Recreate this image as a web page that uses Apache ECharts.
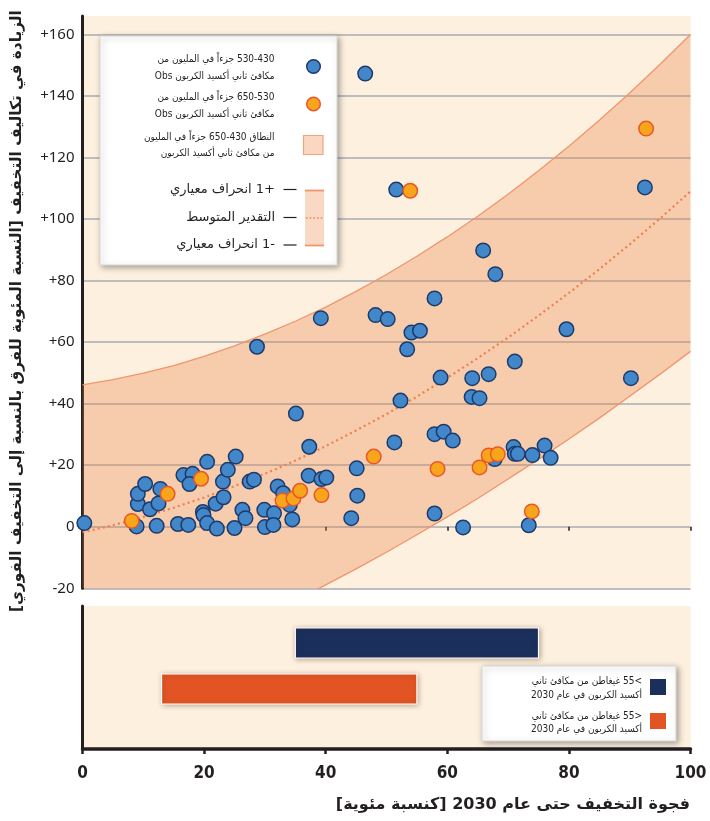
<!DOCTYPE html>
<html>
<head>
<meta charset="utf-8">
<script src="https://cdn.jsdelivr.net/npm/echarts@6/dist/echarts.min.js"></script>
<style>
html,body{margin:0;padding:0;background:#fff;}
#chart{width:710px;height:821px;}
</style>
</head>
<body>
<div id="chart"></div>
<script>
// Render Arabic strings as right-to-left paragraphs, everything else left-to-right
(function(){
  var AR = /[\u0600-\u06FF]/;
  var proto = CanvasRenderingContext2D.prototype;
  var orig = proto.fillText;
  proto.fillText = function(t, x, y, m){
    var d = this.direction;
    this.direction = AR.test(String(t)) ? 'rtl' : 'ltr';
    var r = (m === undefined) ? orig.call(this, t, x, y) : orig.call(this, t, x, y, m);
    this.direction = d;
    return r;
  };
})();

// ---------------- data ----------------
// Observations, 430-530 ppm CO2eq (blue)
var obs430_530 = [
  [0.3,1.2],[8.9,0.1],[9.1,7.4],[9.1,10.7],[10.3,13.9],[11.1,5.7],[12.2,0.3],[12.5,7.6],[12.8,12.3],
  [15.7,0.9],[17.4,0.6],[16.6,16.8],[18.1,17.2],[17.6,13.9],[20.5,21.1],[19.8,4.8],[19.9,3.8],[20.5,1.2],
  [22.1,-0.6],[21.9,7.5],[23.2,9.6],[23.1,14.7],[23.9,18.5],[25.2,22.8],[25.0,-0.4],[26.3,5.5],[26.8,2.8],
  [27.5,14.7],[28.2,15.3],[28.7,58.5],[29.9,5.5],[30.0,-0.1],[31.5,4.4],[31.4,0.6],[32.1,13.1],[33.0,10.9],
  [34.1,7.1],[34.5,2.4],[35.1,36.8],[37.3,26.0],[37.2,16.6],[39.3,15.5],[40.1,16.0],[39.2,67.8],[44.2,2.8],
  [45.1,19.0],[45.2,10.1],[46.5,147.3],[48.2,68.8],[50.2,67.5],[51.3,27.4],[51.6,109.6],[52.3,41.0],[53.4,57.7],
  [54.1,63.1],[55.5,63.7],[57.9,74.2],[57.9,30.1],[57.9,4.3],[58.9,48.5],[59.4,30.9],[60.9,28.0],[62.6,-0.2],
  [64.1,48.3],[66.8,49.6],[64.0,42.2],[65.3,41.8],[65.9,89.8],[67.9,82.1],[67.8,22.0],[70.9,25.9],[71.1,23.7],
  [71.6,23.7],[71.1,53.7],[73.4,0.5],[74.0,23.3],[76.0,26.4],[77.0,22.4],[79.6,64.2],[90.2,48.3],[92.5,110.3]
];
// Observations, 530-650 ppm CO2eq (orange)
var obs530_650 = [
  [8.1,1.9],[14.0,10.7],[19.5,15.6],[32.9,8.5],[34.7,9.2],[35.8,11.7],[39.3,10.3],[47.9,22.8],
  [53.9,109.2],[58.4,18.8],[65.3,19.3],[66.8,23.2],[68.3,23.6],[73.9,5.0],[92.7,129.4]
];
// Fitted curves
var curveX  = [0,5,10,15,20,25,30,35,40,45,50,55,60,65,70,75,80,85,90,95,100];
var plusSD  = [46.1,47.8,49.9,52.4,55.4,58.8,62.6,66.8,71.4,76.5,82.0,87.9,94.2,100.9,108.1,115.7,123.7,132.1,141.0,150.3,160.0];
var meanEst = [-1.8,0.5,3.2,6.2,9.5,13.2,17.2,21.5,26.2,31.3,36.6,42.3,48.4,54.8,61.5,68.6,76.0,83.7,91.8,100.2,109.0];
var minusSD = [-53.7,-50.0,-46.2,-42.1,-37.9,-33.5,-28.8,-24.0,-18.9,-13.7,-8.3,-2.6,3.2,9.2,15.5,21.9,28.5,35.3,42.4,49.6,57.0];
// Bottom panel: mitigation-gap ranges
var gapCategories = ['>55', '<55'];
var gapStart = [35, 13];
var gapEnd   = [75, 55];
// Axis ticks
var xTicks = [0,20,40,60,80,100];
var yTicks = [-20,0,20,40,60,80,100,120,140,160];

// ---------------- texts ----------------
var T = {
  yName: 'الزيادة في تكاليف التخفيف [النسبة المئوية للفرق بالنسبة إلى التخفيف الفوري]',
  xName: 'فجوة التخفيف حتى عام 2030 [كنسبة مئوية]',
  leg1a: '530-430 جزءاً في المليون من', leg1b: 'مكافئ ثاني أكسيد الكربون Obs',
  leg2a: '650-530 جزءاً في المليون من', leg2b: 'مكافئ ثاني أكسيد الكربون Obs',
  leg3a: 'النطاق 430-650 جزءاً في المليون', leg3b: 'من مكافئ ثاني أكسيد الكربون',
  plus: '+1 انحراف معياري', mean: 'التقدير المتوسط', minus: '-1 انحراف معياري',
  gapHiA: '>55 غيغاطن من مكافئ ثاني', gapHiB: 'أكسيد الكربون في عام 2030',
  gapLoA: '<55 غيغاطن من مكافئ ثاني', gapLoB: 'أكسيد الكربون في عام 2030'
};

var C = {
  text:'#231f20', bg:'#fdf0de', grid:'#bdbdbd',
  blue:'#4287c9', blueEdge:'#1d3a6b', orange:'#f9a51c', orangeEdge:'#e8582a',
  band:'rgba(233,128,70,0.32)', bandLine:'#f0956c', meanLine:'#ef7f4f',
  navy:'#1b2f5c', red:'#e35425'
};
var AR_FONT = '"DejaVu Sans", "Noto Sans", sans-serif';
var AR_FONT_COND = '"DejaVu Sans Condensed", "DejaVu Sans", sans-serif';

function pairs(xs, ys){ return xs.map(function(x,i){ return [x, ys[i]]; }); }

function txt(text, x, y, size, weight, family){
  return { type:'text', z:101, style:{ text:text, x:x, y:y, fill:C.text, font:(weight||'normal')+' '+size+'px '+(family||AR_FONT), textAlign:'right', textVerticalAlign:'middle', verticalAlign:'middle' } };
}

var chart = echarts.init(document.getElementById('chart'), null, {renderer:'canvas'});

var option = {
  animation:false,
  backgroundColor:'#ffffff',
  textStyle:{ fontFamily:'"Noto Sans", sans-serif' },
  grid:[
    { left:82.5, right:19.5, top:16, bottom:232.7, show:true, backgroundColor:C.bg, borderWidth:0, containLabel:false, outerBoundsMode:'none' },
    { left:82.5, right:19.5, top:606, bottom:72, show:true, backgroundColor:C.bg, borderWidth:0, containLabel:false, outerBoundsMode:'none' },
    { left:82.5, right:19.5, top:620, height:92, show:false, containLabel:false, outerBoundsMode:'none' }
  ],
  xAxis:[
    { gridIndex:0, type:'value', min:xTicks[0], max:xTicks[xTicks.length-1], interval:20,
      axisLine:{show:false}, axisLabel:{show:false}, splitLine:{show:false},
      axisTick:{show:true, length:4, lineStyle:{color:C.text, width:1.5}} },
    { gridIndex:1, type:'value', min:xTicks[0], max:xTicks[xTicks.length-1], interval:20,
      axisLine:{show:true, onZero:false, lineStyle:{color:C.text, width:3.5}},
      axisTick:{show:true, length:5, lineStyle:{color:C.text, width:2.5}},
      splitLine:{show:false},
      axisLabel:{show:true, margin:16, color:C.text, fontSize:17, fontWeight:'bold', fontFamily:'"Liberation Sans Narrow", "DejaVu Sans Condensed", sans-serif'} },
    { gridIndex:2, type:'value', min:0, max:100, show:false }
  ],
  yAxis:[
    { gridIndex:0, type:'value', min:yTicks[0], max:166, interval:20,
      name:T.yName, nameLocation:'middle', nameRotate:90, nameGap:58,
      nameTextStyle:{ color:C.text, fontSize:15.3, fontWeight:'bold', fontFamily:AR_FONT, padding:[0,18,0,0] },
      axisLine:{show:true, onZero:false, lineStyle:{color:C.text, width:3}},
      axisTick:{show:false},
      splitLine:{show:true, showMaxLine:false, lineStyle:{color:C.grid, width:2}},
      axisLabel:{ show:true, showMaxLabel:false, margin:8, color:C.text, fontSize:15, fontFamily:'"Noto Sans", sans-serif',
        formatter:function(v){ if (yTicks.indexOf(v) < 0) return ''; return v > 0 ? '+' + v : String(v); } } },
    { gridIndex:1, type:'value', min:0, max:1,
      axisLine:{show:true, onZero:false, lineStyle:{color:C.text, width:3}},
      axisTick:{show:false}, axisLabel:{show:false}, splitLine:{show:false} },
    { gridIndex:2, type:'category', data:gapCategories, inverse:true, show:false }
  ],
  series:[
    { type:'custom', name:'band', xAxisIndex:0, yAxisIndex:0, clip:true, z:1, silent:true,
      data:[[0]],
      renderItem:function(params, api){
        var pts = [];
        for (var i=0;i<curveX.length;i++) pts.push(api.coord([curveX[i], plusSD[i]]));
        for (var j=curveX.length-1;j>=0;j--) pts.push(api.coord([curveX[j], minusSD[j]]));
        return { type:'polygon', shape:{points:pts}, style:{fill:C.band, stroke:null} };
      } },
    { type:'line', name:'+1', xAxisIndex:0, yAxisIndex:0, data:pairs(curveX, plusSD), symbol:'none', z:2,
      lineStyle:{color:C.bandLine, width:1.3} },
    { type:'line', name:'-1', xAxisIndex:0, yAxisIndex:0, data:pairs(curveX, minusSD), symbol:'none', z:2,
      lineStyle:{color:C.bandLine, width:1.3} },
    { type:'line', name:'mean', xAxisIndex:0, yAxisIndex:0, data:pairs(curveX, meanEst), symbol:'none', z:2,
      lineStyle:{color:C.meanLine, width:2.2, type:[2,3.2]} },
    { type:'scatter', name:'430-530', xAxisIndex:0, yAxisIndex:0, data:obs430_530, symbolSize:14.5, z:3,
      itemStyle:{color:C.blue, borderColor:C.blueEdge, borderWidth:1.5, opacity:1} },
    { type:'scatter', name:'530-650', xAxisIndex:0, yAxisIndex:0, data:obs530_650, symbolSize:14.5, z:4,
      itemStyle:{color:C.orange, borderColor:C.orangeEdge, borderWidth:1.5, opacity:1} },
    { type:'custom', name:'gap', xAxisIndex:2, yAxisIndex:2, z:3,
      data:gapStart.map(function(s,i){ return [s, gapEnd[i], i]; }),
      renderItem:function(params, api){
        var a = api.coord([api.value(0), api.value(2)]);
        var b = api.coord([api.value(1), api.value(2)]);
        var h = 30;
        return { type:'rect', shape:{x:a[0], y:a[1]-h/2, width:b[0]-a[0], height:h},
          style:{ fill: params.dataIndex === 0 ? C.navy : C.red, stroke:'#ffffff', lineWidth:1.2,
            shadowBlur:5, shadowColor:'rgba(60,40,20,0.35)', shadowOffsetX:1, shadowOffsetY:1 } };
      } }
  ],
  graphic:[
    // main legend box
    { type:'rect', z:100, shape:{x:100, y:36, width:237, height:229},
      style:{fill:'#ffffff', stroke:'#d9d9d9', lineWidth:1, shadowBlur:6, shadowColor:'rgba(0,0,0,0.35)', shadowOffsetX:2, shadowOffsetY:2} },
    { type:'circle', z:101, shape:{cx:313.5, cy:66.5, r:6.8}, style:{fill:C.blue, stroke:C.blueEdge, lineWidth:1.5} },
    txt(T.leg1a, 274.5, 59.5, 10, 'normal', AR_FONT_COND), txt(T.leg1b, 274.5, 76, 10, 'normal', AR_FONT_COND),
    { type:'circle', z:101, shape:{cx:313.5, cy:104, r:6.8}, style:{fill:C.orange, stroke:C.orangeEdge, lineWidth:1.5} },
    txt(T.leg2a, 274.5, 97.5, 10, 'normal', AR_FONT_COND), txt(T.leg2b, 274.5, 114, 10, 'normal', AR_FONT_COND),
    { type:'rect', z:101, shape:{x:303.5, y:135.5, width:19.5, height:19}, style:{fill:'#f9d7c0', stroke:'#f0a47e', lineWidth:1.2} },
    txt(T.leg3a, 274.5, 137.5, 10, 'normal', AR_FONT_COND), txt(T.leg3b, 274.5, 153, 10, 'normal', AR_FONT_COND),
    txt(T.plus, 275, 189.5, 13), txt(T.mean, 275, 217.5, 13), txt(T.minus, 275, 245, 13),
    { type:'line', z:101, shape:{x1:283.5, y1:189.5, x2:296.5, y2:189.5}, style:{stroke:C.text, lineWidth:1.2} },
    { type:'line', z:101, shape:{x1:283.5, y1:217.5, x2:296.5, y2:217.5}, style:{stroke:C.text, lineWidth:1.2} },
    { type:'line', z:101, shape:{x1:283.5, y1:245, x2:296.5, y2:245}, style:{stroke:C.text, lineWidth:1.2} },
    { type:'rect', z:101, shape:{x:305, y:190.5, width:19, height:55}, style:{fill:'#f9d9c4'} },
    { type:'line', z:102, shape:{x1:305, y1:190.5, x2:324, y2:190.5}, style:{stroke:C.bandLine, lineWidth:1.8} },
    { type:'line', z:102, shape:{x1:305, y1:245.5, x2:324, y2:245.5}, style:{stroke:C.bandLine, lineWidth:1.8} },
    { type:'line', z:102, shape:{x1:306, y1:218, x2:324, y2:218}, style:{stroke:C.meanLine, lineWidth:1.5, lineDash:[1.5,2.2]} },
    // bottom legend box
    { type:'rect', z:100, shape:{x:482, y:666, width:194, height:75},
      style:{fill:'#ffffff', stroke:'#d9d9d9', lineWidth:1, shadowBlur:6, shadowColor:'rgba(0,0,0,0.35)', shadowOffsetX:2, shadowOffsetY:2} },
    { type:'rect', z:101, shape:{x:650, y:679, width:16, height:16}, style:{fill:C.navy} },
    { type:'rect', z:101, shape:{x:650, y:713, width:16, height:16}, style:{fill:C.red} },
    txt(T.gapHiA, 642, 681.5, 10, 'normal', AR_FONT_COND), txt(T.gapHiB, 642, 695, 10, 'normal', AR_FONT_COND),
    txt(T.gapLoA, 642, 716.5, 10, 'normal', AR_FONT_COND), txt(T.gapLoB, 642, 729, 10, 'normal', AR_FONT_COND),
    // x axis title
    txt(T.xName, 690, 805, 16, 'bold')
  ]
};
chart.setOption(option);
</script>
</body>
</html>
